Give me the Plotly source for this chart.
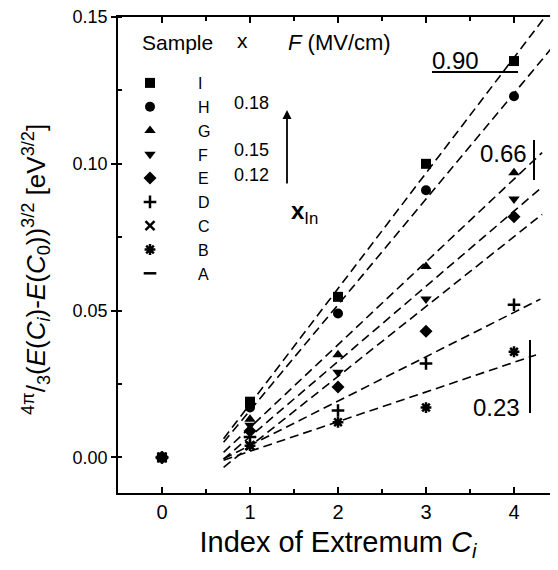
import plotly.graph_objects as go
import numpy as np

# index of extremum C_i
x_index = [0, 1, 2, 3, 4]

# samples
sample_names = ["I", "H", "G", "F", "E", "D", "C", "B", "A"]
val_I = [0, 0.019, 0.0547, 0.100, 0.135]
val_H = [0, 0.017, 0.049, 0.091, 0.123]
val_G = [0, 0.013, 0.035, 0.065, 0.097]
val_F = [0, 0.011, 0.029, 0.054, 0.088]
val_E = [0, 0.009, 0.024, 0.043, 0.082]
val_D = [0, 0.007, 0.016, 0.032, 0.052]
val_C = [0, 0.004, None, None, None]
val_B = [0, 0.004, 0.012, 0.017, 0.036]
val_A = [0, None, None, None, None]

# x composition column of the legend
x_values = {"H": "0.18", "F": "0.15", "E": "0.12"}

# samples that get a dashed fit line (fit over C1..C4)
fitted = ["I", "H", "G", "F", "E", "D", "B"]
fit_start = 0.7
fit_end = {"I": 4.5, "H": 4.5, "G": 4.32, "F": 4.32, "E": 4.32, "D": 4.3, "B": 4.25}

values = dict(zip(sample_names, [val_I, val_H, val_G, val_F, val_E, val_D, val_C, val_B, val_A]))
symbols = {
    "I": "square", "H": "circle", "G": "triangle-up", "F": "triangle-down",
    "E": "diamond", "D": "cross-thin", "C": "x-thin", "B": "asterisk", "A": "line-ew",
}

FONT = "Liberation Sans, Arial, Helvetica, sans-serif"

fig = go.Figure()

for name in fitted:
    y = np.array(values[name][1:], dtype=float)
    k, b = np.polyfit(np.array(x_index[1:], dtype=float), y, 1)
    xs = np.array([fit_start, fit_end[name]])
    fig.add_trace(go.Scatter(
        x=xs, y=k * xs + b, mode="lines", showlegend=False, hoverinfo="skip",
        line=dict(color="black", width=1.6, dash="9px,5px"),
    ))

for i, name in enumerate(sample_names):
    sym = symbols[name]
    thin = sym in ("cross-thin", "x-thin", "asterisk", "line-ew")
    fig.add_trace(go.Scatter(
        x=x_index, y=values[name], mode="markers", name=name,
        marker=dict(
            symbol=sym, color="black",
            size=9 if thin else 10,
            line=dict(color="black", width=2.5 if thin else 0),
        ),
    ))

# page has an 8px body margin, so the figure is drawn 8px smaller and offset
OFF = 8
PL, PR, PT, PB = 118, 558, 17, 493   # plot area in page pixels
def px(v):
    return (v - PL) / (PR - PL)
def py(v):
    return (PB - v) / (PB - PT)

ann = []
ann.append(dict(text="Sample", x=px(140), y=py(42), xanchor="left", font=dict(size=21)))
ann.append(dict(text="x", x=px(242), y=py(40), xanchor="center", font=dict(size=21)))
ann.append(dict(text="<i>F</i> (MV/cm)", x=px(286), y=py(42), xanchor="left", font=dict(size=22)))
rows = {"I": 80, "H": 103, "G": 127, "F": 150, "E": 175, "D": 200, "C": 223, "B": 247, "A": 270}
for k, v in x_values.items():
    ann.append(dict(text=v, x=px(232), y=py(rows[k]), xanchor="left", font=dict(size=18)))
ann.append(dict(text="", x=px(287), y=py(110), showarrow=True, ax=0, ay=75,
                arrowhead=2, arrowsize=1, arrowwidth=1.8, arrowcolor="black"))
ann.append(dict(text="<b>x</b><sub>In</sub>", x=px(289), y=py(212), xanchor="left", font=dict(size=24)))
ann.append(dict(text="0.90", x=px(430), y=py(60), xanchor="left", font=dict(size=24)))
ann.append(dict(text="0.66", x=px(478), y=py(153), xanchor="left", font=dict(size=24)))
ann.append(dict(text="0.23", x=px(471), y=py(407), xanchor="left", font=dict(size=24)))
ann.append(dict(
    text="<sup>4π</sup>/<sub>3</sub>(<i>E</i>(<i>C<sub>i</sub></i>)-<i>E</i>(<i>C</i><sub>0</sub>))<sup>3/2</sup> [eV<sup>3/2</sup>]",
    x=px(36), y=py(270), textangle=-90, xanchor="center", yanchor="middle", font=dict(size=26)))
for a in ann:
    a.setdefault("showarrow", False)
    a.setdefault("yanchor", "middle")
    a["xref"] = "paper"
    a["yref"] = "paper"

shapes = [
    dict(type="line", xref="paper", yref="paper", x0=px(432), x1=px(518), y0=py(72), y1=py(72),
         line=dict(color="black", width=2)),
    dict(type="line", xref="paper", yref="paper", x0=px(534), x1=px(534), y0=py(140), y1=py(180),
         line=dict(color="black", width=2)),
    dict(type="line", xref="paper", yref="paper", x0=px(530), x1=px(530), y0=py(340), y1=py(413),
         line=dict(color="black", width=2)),
]

fig.update_layout(
    width=558 - OFF, height=570 - OFF,
    margin=dict(l=PL - OFF, r=558 - PR, t=PT - OFF, b=570 - PB, autoexpand=False),
    paper_bgcolor="white", plot_bgcolor="white",
    font=dict(family=FONT, color="black", size=19),
    showlegend=True,
    legend=dict(
        x=px(102), y=py(66), xanchor="left", yanchor="top",
        bgcolor="rgba(0,0,0,0)", font=dict(size=16), traceorder="normal",
        tracegroupgap=0, itemwidth=86,
    ),
    annotations=ann,
    shapes=shapes,
    xaxis=dict(
        range=[-0.5, 4.5], dtick=1, tick0=0, showgrid=False, zeroline=False, automargin=False,
        showline=True, linecolor="black", linewidth=1.5, mirror="allticks",
        ticks="inside", ticklen=6, tickwidth=1.5, tickcolor="black",
        minor=dict(ticks="inside", ticklen=4, dtick=0.5, tick0=0, tickcolor="black", showgrid=False),
        tickfont=dict(size=20), ticklabeloverflow="allow",
        title=dict(text="Index of Extremum <i>C<sub>i</sub></i>", font=dict(size=29), standoff=10),
    ),
    yaxis=dict(
        range=[-0.0121, 0.15], dtick=0.05, tick0=0, tickformat=".2f", automargin=False,
        showgrid=False, zeroline=False, ticklabeloverflow="allow",
        showline=True, linecolor="black", linewidth=1.5,
        ticks="outside", ticklen=5, tickwidth=1.5, tickcolor="black",
        minor=dict(ticks="inside", ticklen=4, dtick=0.025, tick0=0, tickcolor="black", showgrid=False),
        tickfont=dict(size=18),
    ),
    yaxis2=dict(
        overlaying="y", side="right", range=[-0.0121, 0.15], showticklabels=False, automargin=False,
        ticks="inside", ticklen=6, tickwidth=1.5, tickcolor="black", dtick=0.025, tick0=0,
        showgrid=False, zeroline=False, showline=False,
    ),
)

fig.write_html("out.html")
